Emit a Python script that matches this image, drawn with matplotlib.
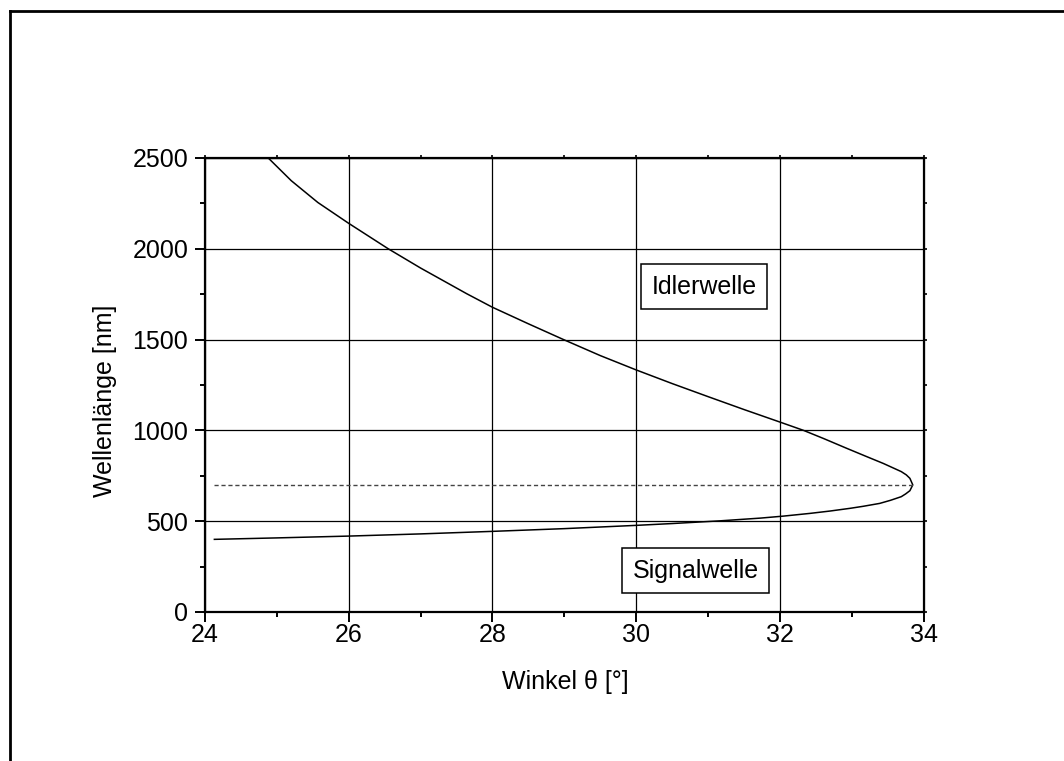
import numpy as np
import matplotlib as mpl
import matplotlib.pyplot as plt
from matplotlib.lines import Line2D
from matplotlib.ticker import MultipleLocator

# one tuning curve, idler branch (top) through the turning point to the signal branch
THETA = [24.88, 25.20, 25.57, 26.00, 26.55, 27.00, 27.64, 28.00, 28.50, 28.99,
         29.50, 30.00, 30.50, 31.00, 31.50, 32.00, 32.33, 32.61, 32.92, 33.20,
         33.44, 33.69, 33.76, 33.81, 33.85, 33.81, 33.75, 33.69, 33.54, 33.39,
         33.16, 32.98, 32.70, 32.42, 32.05, 31.73, 31.17, 30.50, 30.00, 29.00,
         28.00, 27.00, 26.00, 25.00, 24.13]
WAVELENGTH = [2500, 2375, 2255, 2140, 2000, 1894, 1753, 1678, 1587, 1500,
              1412, 1333, 1258, 1186, 1115, 1046, 1000, 955, 903, 857,
              818, 773, 755, 736, 700, 668, 650, 635, 615, 598,
              582, 571, 556, 543, 528, 517, 502, 487, 477, 459,
              444, 430, 418, 408, 400]
DEGEN_THETA = [24.13, 33.85]
DEGEN_NM = [700, 700]

LABELS = ["Idlerwelle", "Signalwelle"]
LABEL_POS = [(30.95, 1790), (30.83, 226)]


mpl.rcParams.update({
    "font.family": "sans-serif",
    "font.sans-serif": ["Liberation Sans", "DejaVu Sans"],
    "font.size": 18,
})

fig = plt.figure(figsize=(10.64, 7.61), dpi=100)
ax = fig.add_axes([0.1927, 0.1958, 0.6753, 0.5966])

ax.plot(THETA, WAVELENGTH, color="black", lw=1.1, zorder=3)
ax.plot(DEGEN_THETA, DEGEN_NM, color="#444444", lw=1.0, dashes=(3, 2), zorder=3)

for txt, (x, y) in zip(LABELS, LABEL_POS):
    ax.text(x, y, txt, ha="center", va="center", fontsize=18, zorder=4,
            bbox=dict(boxstyle="square,pad=0.42", fc="white", ec="black", lw=1.1))

ax.set_xlim(24, 34)
ax.set_ylim(0, 2500)
ax.xaxis.set_major_locator(MultipleLocator(2))
ax.xaxis.set_minor_locator(MultipleLocator(1))
ax.yaxis.set_major_locator(MultipleLocator(500))
ax.yaxis.set_minor_locator(MultipleLocator(250))
ax.grid(True, which="major", color="black", lw=0.9)
ax.set_axisbelow(True)

for s in ax.spines.values():
    s.set_linewidth(1.6)
ax.tick_params(which="both", direction="out", width=1.4, labelsize=18)
ax.tick_params(axis="x", which="major", length=7, pad=1)
ax.tick_params(axis="x", which="minor", length=3.5)
ax.tick_params(axis="y", which="major", length=7, pad=5)
ax.tick_params(axis="y", which="minor", length=3.5)

# small outward ticks on the opposite sides
top = ax.secondary_xaxis("top")
top.xaxis.set_major_locator(MultipleLocator(1))
top.tick_params(direction="out", length=2, width=1.2, labeltop=False)
right = ax.secondary_yaxis("right")
right.yaxis.set_major_locator(MultipleLocator(250))
right.tick_params(direction="out", length=2, width=1.2, labelright=False)

ax.set_xlabel("Winkel θ [°]", fontsize=18)
ax.set_ylabel("Wellenlänge [nm]", fontsize=18)
ax.xaxis.set_label_coords(0.501, -0.128)
ax.yaxis.set_label_coords(-0.1225, 0.465)

# page frame, top and left edges only
fig.add_artist(Line2D([10 / 1064, 1.0], [1 - 10.5 / 761, 1 - 10.5 / 761], color="black", lw=2))
fig.add_artist(Line2D([10 / 1064, 10 / 1064], [0.0, 1 - 10.5 / 761], color="black", lw=2))

fig.savefig("out.png", dpi=100, facecolor="white")
